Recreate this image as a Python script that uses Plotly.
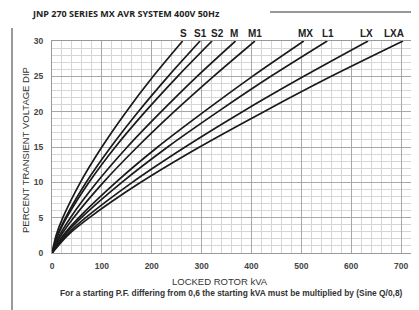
import plotly.graph_objects as go

# Percent transient voltage dip levels (y) and locked-rotor kVA read for each curve (x)
dip_levels = [0, 2.5, 5, 10, 15, 20, 25, 30]
curve_names = ["S", "S1", "S2", "M", "M1", "MX", "L1", "LX", "LXA"]
kva_S   = [0, 8.3, 21.7, 56.9, 100, 149, 203, 262]
kva_S1  = [0, 10.8, 27.2, 68.6, 118, 173, 233, 297]
kva_S2  = [0, 11.7, 29.4, 74.2, 127, 187, 252, 321]
kva_M   = [0, 15.2, 37.0, 90.0, 151, 219, 291, 368]
kva_M1  = [0, 18.2, 43.3, 103, 171, 245, 324, 407]
kva_MX  = [0, 22.6, 53.8, 128, 212, 305, 402, 505]
kva_L1  = [0, 24.7, 58.8, 140, 232, 333, 439, 552]
kva_LX  = [0, 28.4, 67.5, 161, 267, 382, 505, 634]
kva_LXA = [0, 31.5, 75.0, 178, 296, 425, 560, 704]
curves = [kva_S, kva_S1, kva_S2, kva_M, kva_M1, kva_MX, kva_L1, kva_LX, kva_LXA]
# where each curve's name sits above the chart (kVA)
label_kva = [264, 297, 332, 366, 408, 508, 553, 631, 686]

x_ticks = [0, 100, 200, 300, 400, 500, 600, 700]
y_ticks = [0, 5, 10, 15, 20, 25, 30]

# page layout (page pixels); the page body has an 8px margin and the
# visible area ends at about x = 411
OFF = 8
PAGE_W, PAGE_H = 411, 310
PLOT_L, PLOT_R, PLOT_T, PLOT_B = 52, 411, 41, 253
W, H = PAGE_W - OFF, PAGE_H - OFF
L, T = PLOT_L - OFF, PLOT_T - OFF
R = W - (PLOT_R - OFF)
B = H - (PLOT_B - OFF)
pw, ph = W - L - R, H - T - B


def px(x):
    return (x - PLOT_L) / pw


def py(y):
    return (PLOT_B - y) / ph


fig = go.Figure()
for name, xs in zip(curve_names, curves):
    fig.add_trace(go.Scatter(x=xs, y=dip_levels, mode="lines", name=name,
                             line=dict(color="#1a1a1a", width=1.7, shape="spline", smoothing=0.8),
                             showlegend=False, hoverinfo="skip"))

annotations = []
for name, lx in zip(curve_names, label_kva):
    annotations.append(dict(x=lx, y=py(33), xref="x", yref="paper", text=name,
                            showarrow=False, xanchor="center", yanchor="middle",
                            font=dict(family="Liberation Sans, Arial", size=10, color="#222", weight="bold")))

annotations += [
    dict(x=px(30), y=py(13), xref="paper", yref="paper", xanchor="left", yanchor="middle",
         text="JNP 270 SERIES MX AVR SYSTEM 400V 50Hz", showarrow=False,
         font=dict(family="Open Sans", size=9, color="#222", weight="bold")),
    dict(x=px(25), y=py(150), xref="paper", yref="paper", xanchor="center", yanchor="middle",
         text="PERCENT TRANSIENT VOLTAGE DIP", textangle=-90, showarrow=False,
         font=dict(family="Liberation Sans, Arial", size=9.5, color="#333")),
    dict(x=px(220), y=py(281), xref="paper", yref="paper", xanchor="center", yanchor="middle",
         text="LOCKED ROTOR kVA", showarrow=False,
         font=dict(family="Liberation Sans, Arial", size=9.5, color="#333")),
    dict(x=px(231), y=py(293), xref="paper", yref="paper", xanchor="center", yanchor="middle",
         text="For a starting P.F. differing from 0,6 the starting kVA must be multiplied by (Sine Q/0,8)",
         showarrow=False,
         font=dict(family="Liberation Sans, Arial", size=8.4, color="#333", weight="bold")),
]

shapes = [
    dict(type="line", xref="paper", yref="paper", x0=px(12), x1=px(12), y0=py(28), y1=py(312),
         line=dict(color="#9a9a9a", width=2)),
    dict(type="line", xref="paper", yref="paper", x0=px(270), x1=px(412), y0=py(12), y1=py(12),
         line=dict(color="#333", width=1)),
]

tick_font = dict(family="Liberation Sans, Arial", size=8.5, color="#444", weight="bold")
fig.update_layout(
    width=W, height=H, margin=dict(l=L, r=R, t=T, b=B, autoexpand=False),
    paper_bgcolor="white", plot_bgcolor="white",
    annotations=annotations, shapes=shapes,
    xaxis=dict(range=[0, 720], tickvals=x_ticks, ticktext=[str(v) for v in x_ticks],
               showgrid=True, gridcolor="#a8a8a8", gridwidth=1,
               minor=dict(dtick=20, showgrid=True, gridcolor="#d6d6d6", gridwidth=1),
               showline=True, linecolor="#999", mirror=True, zeroline=False,
               ticks="", ticklabelstandoff=5, automargin=False, tickfont=tick_font),
    yaxis=dict(range=[0, 30], tickvals=y_ticks, ticktext=[str(v) for v in y_ticks],
               showgrid=True, gridcolor="#a8a8a8", gridwidth=1,
               minor=dict(dtick=1, showgrid=True, gridcolor="#d6d6d6", gridwidth=1),
               showline=True, linecolor="#999", mirror=True, zeroline=False,
               ticks="", ticklabelstandoff=6, automargin=False, tickfont=tick_font),
)

fig.write_html("out.html", default_width=f"{W}px", default_height=f"{H}px")
